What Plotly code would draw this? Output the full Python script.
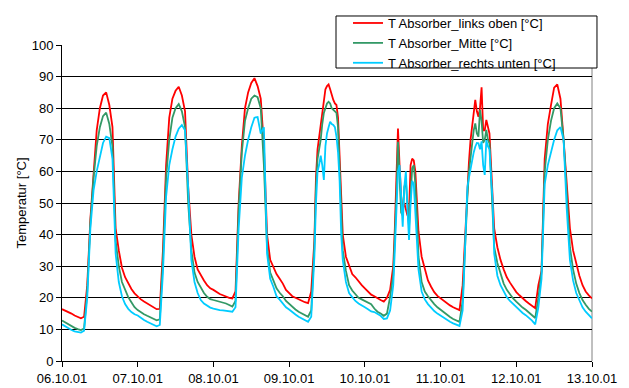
import pandas as pd
import plotly.graph_objects as go

# hours since 06.10.01 00:00
hours = [
    # 06.10
    0, 1, 2, 3, 4, 5, 6, 7, 8, 9, 10, 11, 12, 13, 14, 15, 16, 17, 18, 19, 20, 21, 22, 23,
    # 07.10
    24, 25, 26, 27, 28, 29, 30, 31, 32, 33, 34, 35, 36, 37, 38, 39, 40, 41, 42, 43, 44, 45, 46, 47,
    # 08.10
    48, 49, 50, 51, 52, 53, 54, 55, 56, 57, 58, 59, 60, 61, 62, 63, 64, 65, 66, 67, 68, 69, 70, 71,
    # 09.10
    72, 73, 74, 75, 76, 77, 78, 79, 80,
    80.5, 81, 81.5, 82, 82.5, 83, 83.5, 84, 84.5, 85, 85.5, 86, 86.5, 87, 87.5, 88, 88.5,
    89, 90, 91, 92, 93, 94, 95,
    # 10.10
    96, 97, 98, 99, 100, 101, 102, 103, 104, 105,
    105.5, 106, 106.5, 107, 107.5, 108, 108.5, 109, 109.5, 110, 110.5, 111, 111.5, 112, 112.5,
    113, 114, 115, 116, 117, 118, 119,
    # 11.10
    120, 121, 122, 123, 124, 125, 126, 127, 128,
    128.5, 129, 129.5, 130, 130.5, 131, 131.5, 132, 132.5, 133, 133.5, 134, 134.5, 135, 135.5, 136, 136.5,
    137, 138, 139, 140, 141, 142, 143,
    # 12.10
    144, 145, 146, 147, 148, 149, 150, 151, 152, 153, 154, 155, 156, 157, 158, 159, 160, 161, 162, 163,
    164, 165, 166, 167, 168,
]

t_links_oben = [
    16.4, 16.0, 15.5, 15.0, 14.4, 13.9, 13.5, 14.0, 24, 45, 60, 73, 80, 84, 85, 81, 74, 42, 35, 29.5, 26.5, 24.5, 22.8, 21.4,
    20.3, 19.5, 18.8, 18.2, 17.5, 17.0, 16.4, 16.5, 35, 62, 77, 83, 85.5, 86.8, 84, 79, 55, 40, 33, 29, 27, 25.5, 24, 23,
    22.5, 21.8, 21.2, 20.8, 20.3, 20.0, 19.8, 22, 50, 68, 80, 85, 88, 89.5, 87, 83, 68, 40, 32, 29.8, 27.5, 26, 24.5, 22.5,
    21.5, 20.5, 20, 19.5, 19, 18.6, 18.3, 22, 38,
    58, 67, 71, 74, 79, 83, 86, 87, 87.5, 86, 84, 82.6, 81.5, 81, 77, 63, 48,
    40, 33, 30.5, 27.5, 26.5, 25.2, 24,
    23, 22, 21, 20.5, 19.8, 19.3, 18.8, 20, 22.5, 30,
    42, 55, 73.6, 62, 52, 48, 50, 48, 46, 47, 62, 64, 63.5, 60, 51,
    41, 33, 29, 25.5, 23.5, 21.8, 20.6,
    19.8, 19, 18.3, 17.6, 17, 16.5, 16.1, 24, 45,
    55, 63, 70, 74, 77, 82.6, 79, 77.3, 80, 86.6, 73, 73, 76.3, 74.5, 72, 62, 50,
    42, 36, 32, 29, 26.5, 24.8, 23.2,
    21.8, 20.8, 19.8, 19, 18.2, 17.4, 16.7, 24, 28.5, 64, 75, 81, 86.5, 87.5, 83, 70, 55, 42, 35, 30.5, 27, 24, 22, 20.8, 19.8,
]

t_mitte = [
    12.8, 12.2, 11.6, 11.0, 10.5, 10.1, 9.8, 10.3, 22, 44, 58, 68, 74, 77.5, 78.6, 75, 68, 38, 30, 25, 22.3, 20.2, 18.6, 17,
    16.1, 15.4, 14.8, 14.3, 13.8, 13.3, 12.9, 13.2, 32, 58, 70, 77, 80, 81.3, 79, 74, 50, 35, 28, 25, 23, 21.5, 20.3, 19.6,
    19.3, 19.0, 18.8, 18.6, 18.2, 17.7, 17.2, 19, 48, 66, 76, 80, 83, 84, 83.5, 80, 62, 36, 28, 25.5, 23, 21.6, 20.5, 19,
    18, 17, 16.3, 15.6, 15, 14.5, 14, 16, 36,
    55, 64, 67, 70, 75, 78.5, 80, 81.5, 82, 81.5, 80, 79.5, 79, 78.5, 74, 60, 44,
    35, 28.5, 24, 22.3, 21, 20, 19.5,
    19, 18.6, 18, 16.6, 15.6, 15, 14.3, 15, 20.3, 27,
    38, 52, 69.4, 60, 47, 46, 55, 57, 48, 42.5, 52, 61, 62, 56, 46,
    33, 25, 22, 20.5, 19.2, 18, 17,
    16.2, 15.4, 14.6, 13.9, 13.3, 12.8, 12.4, 19, 43,
    52, 60, 65, 70, 73, 75.2, 72, 71, 79.4, 76, 69, 70, 73.1, 70, 68.9, 58, 46,
    36, 31, 27.5, 24.5, 22.5, 21, 19.8,
    18.8, 17.8, 16.9, 16.2, 15.4, 14.6, 13.6, 20, 28, 60, 70, 76, 80, 81.5, 80, 70, 52, 36, 29, 24.5, 21.5, 19.3, 17.8, 16.5, 15.6,
]

t_rechts_unten = [
    11.6, 11.0, 10.3, 9.8, 9.4, 9.1, 9.0, 9.6, 20, 42, 54, 60, 65, 69, 71, 70.5, 64, 34, 25, 20.5, 18, 16.5, 15.5, 14.8,
    14.4, 13.6, 13.0, 12.4, 11.9, 11.4, 11.0, 11.4, 28, 52, 62, 67, 71, 73.5, 74.7, 73, 55, 32, 25, 21.5, 19.3, 18.2, 17.4, 16.9,
    16.6, 16.3, 16.1, 16.0, 15.9, 15.7, 15.6, 17, 42, 58, 65, 70, 74, 77, 77.2, 72, 74, 34, 26, 23.5, 20.5, 19.4, 18.2, 17,
    16.3, 15.4, 14.7, 14, 13.4, 12.9, 12.4, 14, 33,
    50, 60, 62, 65, 62, 57.3, 68, 72, 74, 75.7, 75, 74.7, 74, 71, 66, 57, 40,
    32, 25, 21.5, 20.2, 19, 18.2, 17.5,
    17, 16.4, 15.7, 15.5, 15, 14.3, 13.3, 13.5, 16, 24,
    35, 48, 60, 62, 50, 42.5, 55, 60, 48, 38.3, 50, 57, 56, 48, 40.5,
    29, 22, 19.5, 18, 16.8, 15.8, 15,
    14.3, 13.6, 13, 12.4, 11.9, 11.4, 11.1, 16, 42,
    55, 58, 61, 64, 66, 67.8, 69, 68.9, 67, 69.5, 62, 58.9, 69.9, 68, 67, 58, 51,
    34, 27, 24, 22, 20.2, 19, 18,
    17, 16.1, 15.2, 14.5, 13.7, 12.8, 11.6, 17, 26, 56, 62, 66, 70, 73, 74, 70, 48, 32, 25.5, 21.5, 19, 17, 15.6, 14.4, 13.5,
]

series_names = ["T Absorber_links oben [°C]", "T Absorber_Mitte [°C]", "T Absorber_rechts unten [°C]"]
series_colors = ["#FF0000", "#339966", "#00CCFF"]
y_ticks = [0, 10, 20, 30, 40, 50, 60, 70, 80, 90, 100]

start = pd.Timestamp("2001-10-06 00:00")
times = start + pd.to_timedelta(hours, unit="h")

FONT = "Liberation Sans, Arial, sans-serif"

fig = go.Figure()
for name, vals, col in zip(series_names, [t_links_oben, t_mitte, t_rechts_unten], series_colors):
    fig.add_trace(go.Scatter(x=times, y=vals, mode="lines", name=name,
                             line=dict(color=col, width=1.8)))

# legend frame
fig.add_shape(type="rect", xref="paper", yref="paper", x0=0.517, x1=1.0094, y0=0.9272, y1=1.0918,
              line=dict(color="black", width=1), fillcolor="white", layer="above")
# plot area right border
fig.add_shape(type="line", xref="paper", yref="paper", x0=1, x1=1, y0=0, y1=0.9272,
              line=dict(color="#808080", width=1), layer="below")

fig.update_layout(
    width=629, height=388,
    margin=dict(l=62, r=37, t=45, b=27, autoexpand=False),
    paper_bgcolor="white", plot_bgcolor="white",
    font=dict(family=FONT, size=13, color="black"),
    showlegend=True,
    legend=dict(x=0.5396, y=1.117, xanchor="left", yanchor="top",
                bgcolor="rgba(0,0,0,0)", borderwidth=0, font=dict(size=13, family=FONT)),
    xaxis=dict(type="date", range=["2001-10-06", "2001-10-13"], tick0="2001-10-06", dtick=86400000,
               tickformat="%d.%m.%y", ticks="outside", ticklen=5, tickcolor="black",
               showline=True, linecolor="black", linewidth=1, showgrid=False, zeroline=False,
               automargin=False, tickfont=dict(size=13, family=FONT)),
    yaxis=dict(range=[0, 100], tickvals=y_ticks, ticks="outside", ticklen=5, tickcolor="black",
               showline=True, linecolor="black", linewidth=1, showgrid=True, gridcolor="black",
               gridwidth=1, zeroline=False, automargin=False, tickfont=dict(size=13, family=FONT),
               title=dict(text="Temperatur [°C]", font=dict(size=13, family=FONT), standoff=2)),
)

fig.write_html("out.html", config={"displayModeBar": False},
               post_script="document.body.style.margin='0';document.body.style.overflow='hidden';")
